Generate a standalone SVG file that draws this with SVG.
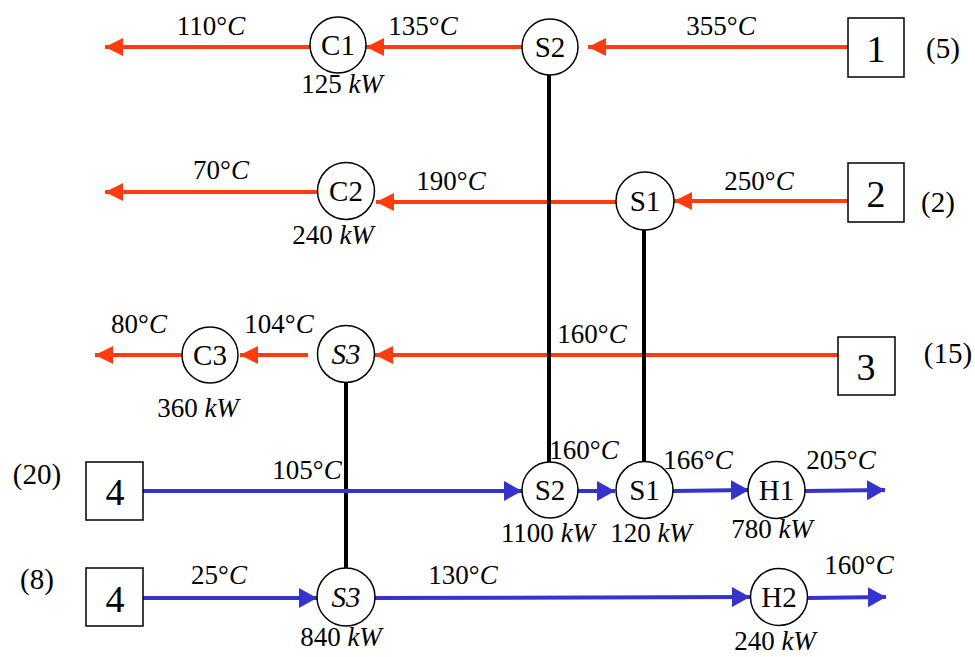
<svg xmlns="http://www.w3.org/2000/svg" width="975" height="657" viewBox="0 0 975 657">
<style>
  text { font-family: "Liberation Serif", "Times New Roman", serif; fill: #000; }
  .lbl { font-size: 27px; text-anchor: middle; }
  .node { font-size: 29px; text-anchor: middle; }
  .box { font-size: 38px; text-anchor: middle; }
  .par { font-size: 29px; text-anchor: middle; }
  .it { font-style: italic; }
  .hot { stroke: #ff3c0f; stroke-width: 4; fill: none; }
  .cold { stroke: #3434cc; stroke-width: 4; fill: none; }
  .link { stroke: #000; stroke-width: 4; fill: none; }
  circle { fill: #fff; stroke: #000; stroke-width: 1.5; }
  rect { fill: #fff; stroke: #000; stroke-width: 1.5; }
</style>
<defs>
  <marker id="ah" viewBox="0 0 18 18" refX="18" refY="9" markerWidth="18" markerHeight="18" markerUnits="userSpaceOnUse" orient="auto">
    <path d="M0,0 L18,9 L0,18 z" fill="#ff3c0f"/>
  </marker>
  <marker id="ac" viewBox="0 0 18 20" refX="18" refY="10" markerWidth="18" markerHeight="20" markerUnits="userSpaceOnUse" orient="auto">
    <path d="M0,0 L18,10 L0,20 z" fill="#3434cc"/>
  </marker>
</defs>

<g id="connectors">
  <line class="hot" x1="848" y1="47" x2="588" y2="47" marker-end="url(#ah)"/>
  <line class="hot" x1="522" y1="47" x2="366" y2="47" marker-end="url(#ah)"/>
  <line class="hot" x1="310" y1="47" x2="105" y2="47" marker-end="url(#ah)"/>
  <line class="hot" x1="848" y1="201" x2="674" y2="201" marker-end="url(#ah)"/>
  <line class="hot" x1="616" y1="202" x2="376" y2="202" marker-end="url(#ah)"/>
  <line class="hot" x1="318" y1="192" x2="105" y2="192" marker-end="url(#ah)"/>
  <line class="hot" x1="838" y1="355" x2="375" y2="355" marker-end="url(#ah)"/>
  <line class="hot" x1="308" y1="355" x2="240" y2="355" marker-end="url(#ah)"/>
  <line class="hot" x1="182" y1="355" x2="95" y2="355" marker-end="url(#ah)"/>
  <line class="link" x1="549" y1="75" x2="549" y2="462"/>
  <line class="link" x1="644" y1="230" x2="644" y2="462"/>
  <line class="link" x1="346" y1="383" x2="346" y2="568"/>
  <line class="cold" x1="143" y1="491" x2="522" y2="491" marker-end="url(#ac)"/>
  <line class="cold" x1="578" y1="491" x2="615" y2="491" marker-end="url(#ac)"/>
  <line class="cold" x1="673" y1="491" x2="749" y2="490" marker-end="url(#ac)"/>
  <line class="cold" x1="805" y1="491" x2="885" y2="490" marker-end="url(#ac)"/>
  <line class="cold" x1="143" y1="598" x2="317" y2="598" marker-end="url(#ac)"/>
  <line class="cold" x1="375" y1="598" x2="750" y2="597" marker-end="url(#ac)"/>
  <line class="cold" x1="808" y1="598" x2="886" y2="597" marker-end="url(#ac)"/>
</g>

<g id="labels">
  <text class="lbl" x="211" y="35">110°<tspan class="it">C</tspan></text>
  <text class="lbl" x="423" y="35">135°<tspan class="it">C</tspan></text>
  <text class="lbl" x="721" y="35">355°<tspan class="it">C</tspan></text>
  <text class="lbl" x="221" y="179">70°<tspan class="it">C</tspan></text>
  <text class="lbl" x="451" y="190">190°<tspan class="it">C</tspan></text>
  <text class="lbl" x="759" y="190">250°<tspan class="it">C</tspan></text>
  <text class="lbl" x="139" y="333">80°<tspan class="it">C</tspan></text>
  <text class="lbl" x="279" y="333">104°<tspan class="it">C</tspan></text>
  <text class="lbl" x="592" y="343">160°<tspan class="it">C</tspan></text>
  <text class="lbl" x="307" y="479">105°<tspan class="it">C</tspan></text>
  <text class="lbl" x="584" y="459">160°<tspan class="it">C</tspan></text>
  <text class="lbl" x="698" y="469">166°<tspan class="it">C</tspan></text>
  <text class="lbl" x="841" y="469">205°<tspan class="it">C</tspan></text>
  <text class="lbl" x="219" y="584">25°<tspan class="it">C</tspan></text>
  <text class="lbl" x="463" y="584">130°<tspan class="it">C</tspan></text>
  <text class="lbl" x="859" y="574">160°<tspan class="it">C</tspan></text>
</g>

<g id="C1"><circle cx="338" cy="45" r="28"/><text class="node" x="338" y="55">C1</text><text class="lbl" x="342" y="93">125 <tspan class="it">kW</tspan></text></g>
<g id="S2-hot"><circle cx="550" cy="47" r="28"/><text class="node" x="550" y="57">S2</text></g>
<g id="stream1"><rect x="848" y="18" width="56" height="59"/><text class="box" x="876" y="62">1</text><text class="par" x="943" y="58">(5)</text></g>

<g id="C2"><circle cx="346" cy="191" r="28.5"/><text class="node" x="346" y="201">C2</text><text class="lbl" x="333" y="244">240 <tspan class="it">kW</tspan></text></g>
<g id="S1-hot"><circle cx="645" cy="201" r="29"/><text class="node" x="645" y="211">S1</text></g>
<g id="stream2"><rect x="848" y="163" width="56" height="59"/><text class="box" x="876" y="207">2</text><text class="par" x="938" y="212">(2)</text></g>

<g id="C3"><circle cx="210" cy="355" r="28"/><text class="node" x="210" y="365">C3</text><text class="lbl" x="198" y="417">360 <tspan class="it">kW</tspan></text></g>
<g id="S3-hot"><circle cx="346" cy="354" r="28.5"/><text class="node it" x="346" y="364">S3</text></g>
<g id="stream3"><rect x="838" y="337" width="57" height="58"/><text class="box" x="866" y="380">3</text><text class="par" x="948" y="363">(15)</text></g>

<g id="stream4a"><rect x="86" y="462" width="57" height="58"/><text class="box" x="115" y="505">4</text><text class="par" x="37" y="484">(20)</text></g>
<g id="S2-cold"><circle cx="550" cy="490" r="28"/><text class="node" x="550" y="500">S2</text><text class="lbl" x="548" y="542">1100 <tspan class="it">kW</tspan></text></g>
<g id="S1-cold"><circle cx="644.5" cy="490" r="28.5"/><text class="node" x="644.5" y="500">S1</text><text class="lbl" x="651" y="542">120 <tspan class="it">kW</tspan></text></g>
<g id="H1"><circle cx="776.5" cy="490" r="28.5"/><text class="node" x="776.5" y="500">H1</text><text class="lbl" x="772" y="538">780 <tspan class="it">kW</tspan></text></g>

<g id="stream4b"><rect x="86" y="568" width="57" height="58"/><text class="box" x="115" y="612">4</text><text class="par" x="37" y="589">(8)</text></g>
<g id="S3-cold"><circle cx="346" cy="597" r="29"/><text class="node it" x="346" y="607">S3</text><text class="lbl" x="341" y="646">840 <tspan class="it">kW</tspan></text></g>
<g id="H2"><circle cx="779" cy="597" r="28.5"/><text class="node" x="779" y="607">H2</text><text class="lbl" x="775" y="650">240 <tspan class="it">kW</tspan></text></g>
</svg>
